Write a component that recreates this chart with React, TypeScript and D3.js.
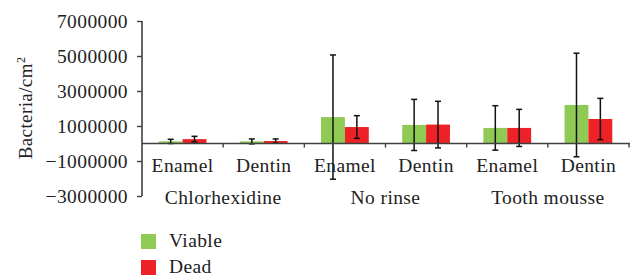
import React, { useRef, useEffect } from 'react'
import * as d3 from 'd3'

// chart data
const groups = ['Chlorhexidine', 'No rinse', 'Tooth mousse']
const surfaces = ['Enamel', 'Dentin']
const seriesNames = ['Viable', 'Dead']
const viable = [120000, 120000, 1510000, 1060000, 890000, 2200000]
const viableErr = [120000, 140000, 3550000, 1460000, 1270000, 2960000]
const dead = [250000, 140000, 940000, 1080000, 890000, 1400000]
const deadErr = [160000, 120000, 650000, 1330000, 1060000, 1180000]
const yTicks = [-3000000, -1000000, 1000000, 3000000, 5000000, 7000000]

const colors = ['#8fca55', '#ec2227']
const font = '"Liberation Serif", "Times New Roman", serif'
const fs = 19.5
const ls = '0.4px'

export default function App() {
  const ref = useRef<SVGSVGElement>(null)

  useEffect(() => {
    const svg = d3.select(ref.current)
    svg.selectAll('*').remove()

    const cats = groups.flatMap(g => surfaces.map(s => g + '|' + s))
    const rows = cats.map((c, i) => ({
      cat: c,
      vals: [
        { s: 0, v: viable[i], e: viableErr[i] },
        { s: 1, v: dead[i], e: deadErr[i] },
      ],
    }))

    const x0 = d3.scaleBand().domain(cats).range([142, 629]).padding(0)
    const x1 = d3.scaleBand<number>().domain([0, 1])
      .range([0, x0.bandwidth()]).paddingInner(0).paddingOuter(0.7)
    const y = d3.scaleLinear().domain([-3000000, 7000000]).range([196, 21])

    // bars
    const g = svg.append('g')
    const cat = g.selectAll('.cat').data(rows).join('g')
      .attr('transform', d => `translate(${x0(d.cat)},0)`)
    cat.selectAll('rect').data(d => d.vals).join('rect')
      .attr('x', d => x1(d.s)!)
      .attr('width', x1.bandwidth())
      .attr('y', d => y(Math.max(0, d.v)))
      .attr('height', d => Math.abs(y(d.v) - y(0)))
      .attr('fill', d => colors[d.s])

    // axes
    const axisColor = '#404040'
    const yAxis = svg.append('g').attr('transform', 'translate(142,0)')
      .call(d3.axisLeft(y).tickValues(yTicks).tickFormat(d3.format('d')).tickSize(5).tickSizeOuter(0).tickPadding(9))
    yAxis.select('.domain').attr('stroke', axisColor).attr('stroke-width', 1.6)
      .attr('d', `M0,${y(7000000)}V${y(-3000000)}`)
    yAxis.selectAll('.tick line').attr('stroke', axisColor).attr('stroke-width', 1.4)
    yAxis.selectAll('.tick text').attr('font-family', font).attr('font-size', fs).attr('fill', '#222')
      .attr('letter-spacing', ls).attr('dy', '0.35em')

    // horizontal zero axis
    const xa = svg.append('g')
    xa.append('line').attr('x1', 142).attr('x2', 630).attr('y1', y(0)).attr('y2', y(0))
      .attr('stroke', axisColor).attr('stroke-width', 1.6)
    const bounds = cats.map(c => x0(c)! + x0.bandwidth())
    xa.selectAll('.xt').data(bounds).join('line')
      .attr('x1', d => d).attr('x2', d => d)
      .attr('y1', y(0)).attr('y2', y(0) + 4)
      .attr('stroke', axisColor).attr('stroke-width', 1.4)

    // error bars
    const eb = cat.selectAll('.eb').data(d => d.vals).join('g')
      .attr('stroke', '#111').attr('stroke-width', 1.5)
    const cx = (d: any) => x1(d.s)! + x1.bandwidth() / 2
    eb.append('line').attr('x1', cx).attr('x2', cx)
      .attr('y1', d => y(d.v + d.e)).attr('y2', d => y(d.v - d.e))
    eb.append('line').attr('x1', d => cx(d) - 3).attr('x2', d => cx(d) + 3)
      .attr('y1', d => y(d.v + d.e)).attr('y2', d => y(d.v + d.e))
    eb.append('line').attr('x1', d => cx(d) - 3).attr('x2', d => cx(d) + 3)
      .attr('y1', d => y(d.v - d.e)).attr('y2', d => y(d.v - d.e))

    // category labels
    svg.append('g').selectAll('text').data(cats).join('text')
      .attr('x', d => x0(d)! + x0.bandwidth() / 2)
      .attr('y', 171.5)
      .attr('text-anchor', 'middle')
      .attr('font-family', font).attr('font-size', fs).attr('letter-spacing', ls).attr('fill', '#222')
      .text(d => d.split('|')[1])
    svg.append('g').selectAll('text').data(groups).join('text')
      .attr('x', d => x0(d + '|Dentin')!)
      .attr('y', 203.5)
      .attr('text-anchor', 'middle')
      .attr('font-family', font).attr('font-size', fs).attr('letter-spacing', ls).attr('fill', '#222')
      .text(d => d)

    // y title
    const t = svg.append('text')
      .attr('transform', 'translate(32,108) rotate(-90)')
      .attr('text-anchor', 'middle')
      .attr('font-family', font).attr('font-size', 19).attr('letter-spacing', ls).attr('fill', '#222')
    t.append('tspan').text('Bacteria/cm')
    t.append('tspan').attr('baseline-shift', 'super').attr('font-size', 12).text('2')

    // legend
    const lg = svg.append('g').selectAll('g').data(seriesNames).join('g')
      .attr('transform', (d, i) => `translate(141,${234 + i * 26})`)
    lg.append('rect').attr('width', 15).attr('height', 15).attr('fill', (d, i) => colors[i])
    lg.append('text').attr('x', 28).attr('y', 13)
      .attr('font-family', font).attr('font-size', fs).attr('letter-spacing', ls).attr('fill', '#222')
      .text(d => d)
  }, [])

  return (
    <svg ref={ref} width={637} height={278}
      style={{ position: 'absolute', left: 0, top: 0, background: '#fff' }} />
  )
}
